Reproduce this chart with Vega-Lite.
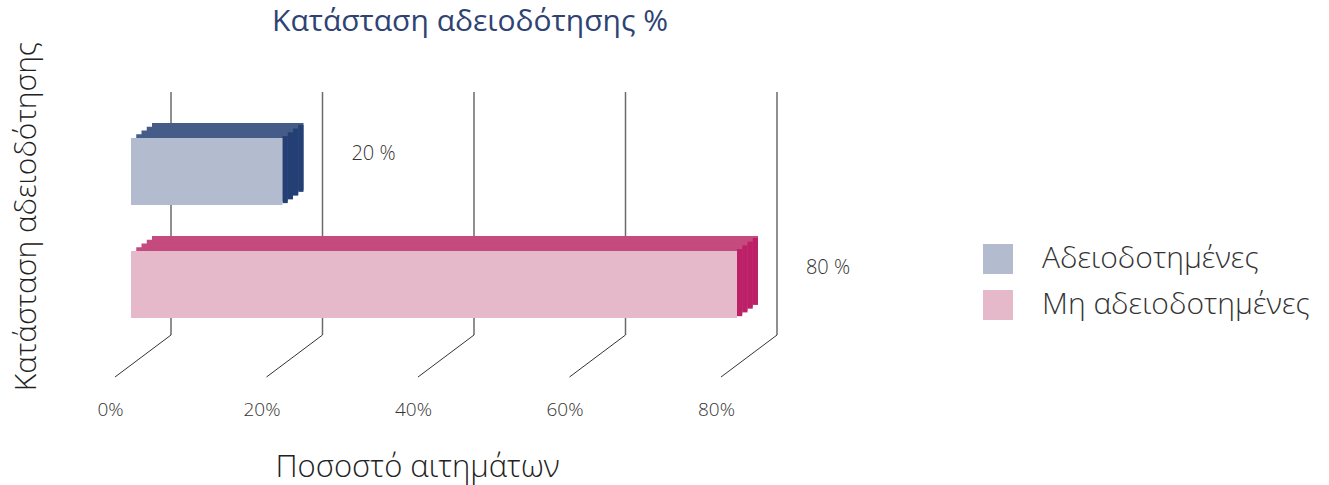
{
  "$schema": "https://vega.github.io/schema/vega-lite/v6.json",
  "autosize": "none",
  "padding": {"left": 131, "top": 92, "right": 592, "bottom": 108},
  "width": 606,
  "height": 285,
  "background": "white",
  "config": {
    "view": {"stroke": null},
    "font": "Open Sans",
    "text": {"font": "Open Sans"}
  },
  "title": {
    "text": "Κατάσταση αδειοδότησης %",
    "font": "Open Sans",
    "fontSize": 30,
    "fontWeight": 500,
    "color": "#2E4373",
    "anchor": "middle",
    "frame": "group",
    "baseline": "alphabetic",
    "offset": 16,
    "dx": 36,
    "dy": 36
  },
  "datasets": {
    "bars": [
      {"status": "Αδειοδοτημένες", "value": 20, "label": "20 %"},
      {"status": "Μη αδειοδοτημένες", "value": 80, "label": "80 %"}
    ],
    "ticks": [
      {"tick": 0}, {"tick": 20}, {"tick": 40}, {"tick": 60}, {"tick": 80}
    ]
  },
  "resolve": {"scale": {"y": "independent"}, "axis": {"y": "independent"}},
  "layer": [
    {
      "data": {"name": "ticks"},
      "layer": [
        {
          "mark": {"type": "rule", "color": "#6A6A6A", "strokeWidth": 1.5, "xOffset": 40, "y2Offset": -42},
          "encoding": {
            "x": {"field": "tick", "type": "quantitative", "scale": {"domain": [0, 80], "nice": false}},
            "y": {"datum": 1, "type": "quantitative", "scale": {"domain": [0, 1], "nice": false, "zero": false}, "axis": null},
            "y2": {"datum": 0}
          }
        },
        {
          "mark": {"type": "rule", "color": "#333333", "strokeWidth": 1, "xOffset": 40, "x2Offset": -16, "yOffset": -42, "y2Offset": 0},
          "encoding": {
            "x": {"field": "tick", "type": "quantitative"},
            "x2": {"field": "tick"},
            "y": {"datum": 0, "type": "quantitative", "axis": null},
            "y2": {"datum": 0}
          }
        }
      ]
    },
    {
      "data": {"name": "bars"},
      "encoding": {
        "y": {
          "field": "status", "type": "nominal",
          "scale": {"domain": ["Αδειοδοτημένες", "Μη αδειοδοτημένες"], "paddingInner": 0.407, "paddingOuter": 0.464, "align": 0.438},
          "axis": {
            "labels": false, "ticks": false, "domain": false, "grid": false,
            "title": "Κατάσταση αδειοδότησης",
            "titleFont": "Open Sans", "titleFontSize": 30, "titleFontWeight": 300, "titleColor": "#222222",
            "titlePadding": 90, "titleY": 124
          }
        }
      },
      "layer": [
        {
          "mark": {"type": "bar", "xOffset": 21, "x2Offset": 21, "yOffset": -15, "y2Offset": -15},
          "encoding": {
            "x": {"field": "value", "type": "quantitative"},
            "x2": {"datum": 0},
            "color": {"condition": {"test": "datum.status == 'Αδειοδοτημένες'", "value": "#455B88"}, "value": "#C54A7D"}
          }
        },
        {
          "mark": {"type": "bar", "xOffset": 15.75, "x2Offset": 15.75, "yOffset": -11.25, "y2Offset": -11.25},
          "encoding": {
            "x": {"field": "value", "type": "quantitative"},
            "x2": {"datum": 0},
            "color": {"condition": {"test": "datum.status == 'Αδειοδοτημένες'", "value": "#455B88"}, "value": "#C54A7D"}
          }
        },
        {
          "mark": {"type": "bar", "xOffset": 10.5, "x2Offset": 10.5, "yOffset": -7.5, "y2Offset": -7.5},
          "encoding": {
            "x": {"field": "value", "type": "quantitative"},
            "x2": {"datum": 0},
            "color": {"condition": {"test": "datum.status == 'Αδειοδοτημένες'", "value": "#455B88"}, "value": "#C54A7D"}
          }
        },
        {
          "mark": {"type": "bar", "xOffset": 5.25, "x2Offset": 5.25, "yOffset": -3.75, "y2Offset": -3.75},
          "encoding": {
            "x": {"field": "value", "type": "quantitative"},
            "x2": {"datum": 0},
            "color": {"condition": {"test": "datum.status == 'Αδειοδοτημένες'", "value": "#455B88"}, "value": "#C54A7D"}
          }
        },
        {
          "mark": {"type": "bar", "xOffset": 0, "x2Offset": 5.25, "yOffset": -1.875, "y2Offset": -1.875},
          "encoding": {
            "x": {"field": "value", "type": "quantitative"},
            "x2": {"field": "value"},
            "color": {"condition": {"test": "datum.status == 'Αδειοδοτημένες'", "value": "#243F73"}, "value": "#BC2168"}
          }
        },
        {
          "mark": {"type": "bar", "xOffset": 5.25, "x2Offset": 10.5, "yOffset": -5.625, "y2Offset": -5.625},
          "encoding": {
            "x": {"field": "value", "type": "quantitative"},
            "x2": {"field": "value"},
            "color": {"condition": {"test": "datum.status == 'Αδειοδοτημένες'", "value": "#243F73"}, "value": "#BC2168"}
          }
        },
        {
          "mark": {"type": "bar", "xOffset": 10.5, "x2Offset": 15.75, "yOffset": -9.375, "y2Offset": -9.375},
          "encoding": {
            "x": {"field": "value", "type": "quantitative"},
            "x2": {"field": "value"},
            "color": {"condition": {"test": "datum.status == 'Αδειοδοτημένες'", "value": "#243F73"}, "value": "#BC2168"}
          }
        },
        {
          "mark": {"type": "bar", "xOffset": 15.75, "x2Offset": 21, "yOffset": -13.125, "y2Offset": -13.125},
          "encoding": {
            "x": {"field": "value", "type": "quantitative"},
            "x2": {"field": "value"},
            "color": {"condition": {"test": "datum.status == 'Αδειοδοτημένες'", "value": "#243F73"}, "value": "#BC2168"}
          }
        },
        {
          "mark": {"type": "bar"},
          "encoding": {
            "x": {
              "field": "value", "type": "quantitative", "stack": null,
              "scale": {"domain": [0, 80], "nice": false},
              "axis": {
                "values": [0, 20, 40, 60, 80],
                "labelExpr": "datum.value + '%'",
                "domain": false, "ticks": false, "grid": false,
                "labelFont": "Open Sans", "labelFontSize": 19, "labelFontWeight": 300, "labelColor": "#333333",
                "labelPadding": 23, "labelOffset": -21, "labelFlush": false,
                "title": "Ποσοστό αιτημάτων",
                "titleFont": "Open Sans", "titleFontSize": 31, "titleFontWeight": 300, "titleColor": "#222222",
                "titlePadding": 33, "titleX": 286, "titleAlign": "center"
              }
            },
            "color": {
              "field": "status", "type": "nominal",
              "scale": {"domain": ["Αδειοδοτημένες", "Μη αδειοδοτημένες"], "range": ["#B3BBCF", "#E5B8CA"]},
              "legend": {
                "title": null, "orient": "none", "legendX": 852, "legendY": 152,
                "symbolType": "square", "symbolSize": 900, "symbolStrokeWidth": 0,
                "labelFont": "Open Sans", "labelFontSize": 30, "labelFontWeight": 300, "labelColor": "#333333",
                "labelOffset": 29, "rowPadding": 16, "labelLimit": 400
              }
            }
          }
        },
        {
          "mark": {"type": "text", "fontSize": 20, "fontWeight": 300, "color": "#333333", "align": "center", "baseline": "middle", "dx": 91, "dy": -17},
          "encoding": {
            "x": {"field": "value", "type": "quantitative"},
            "text": {"field": "label"}
          }
        }
      ]
    }
  ]
}
